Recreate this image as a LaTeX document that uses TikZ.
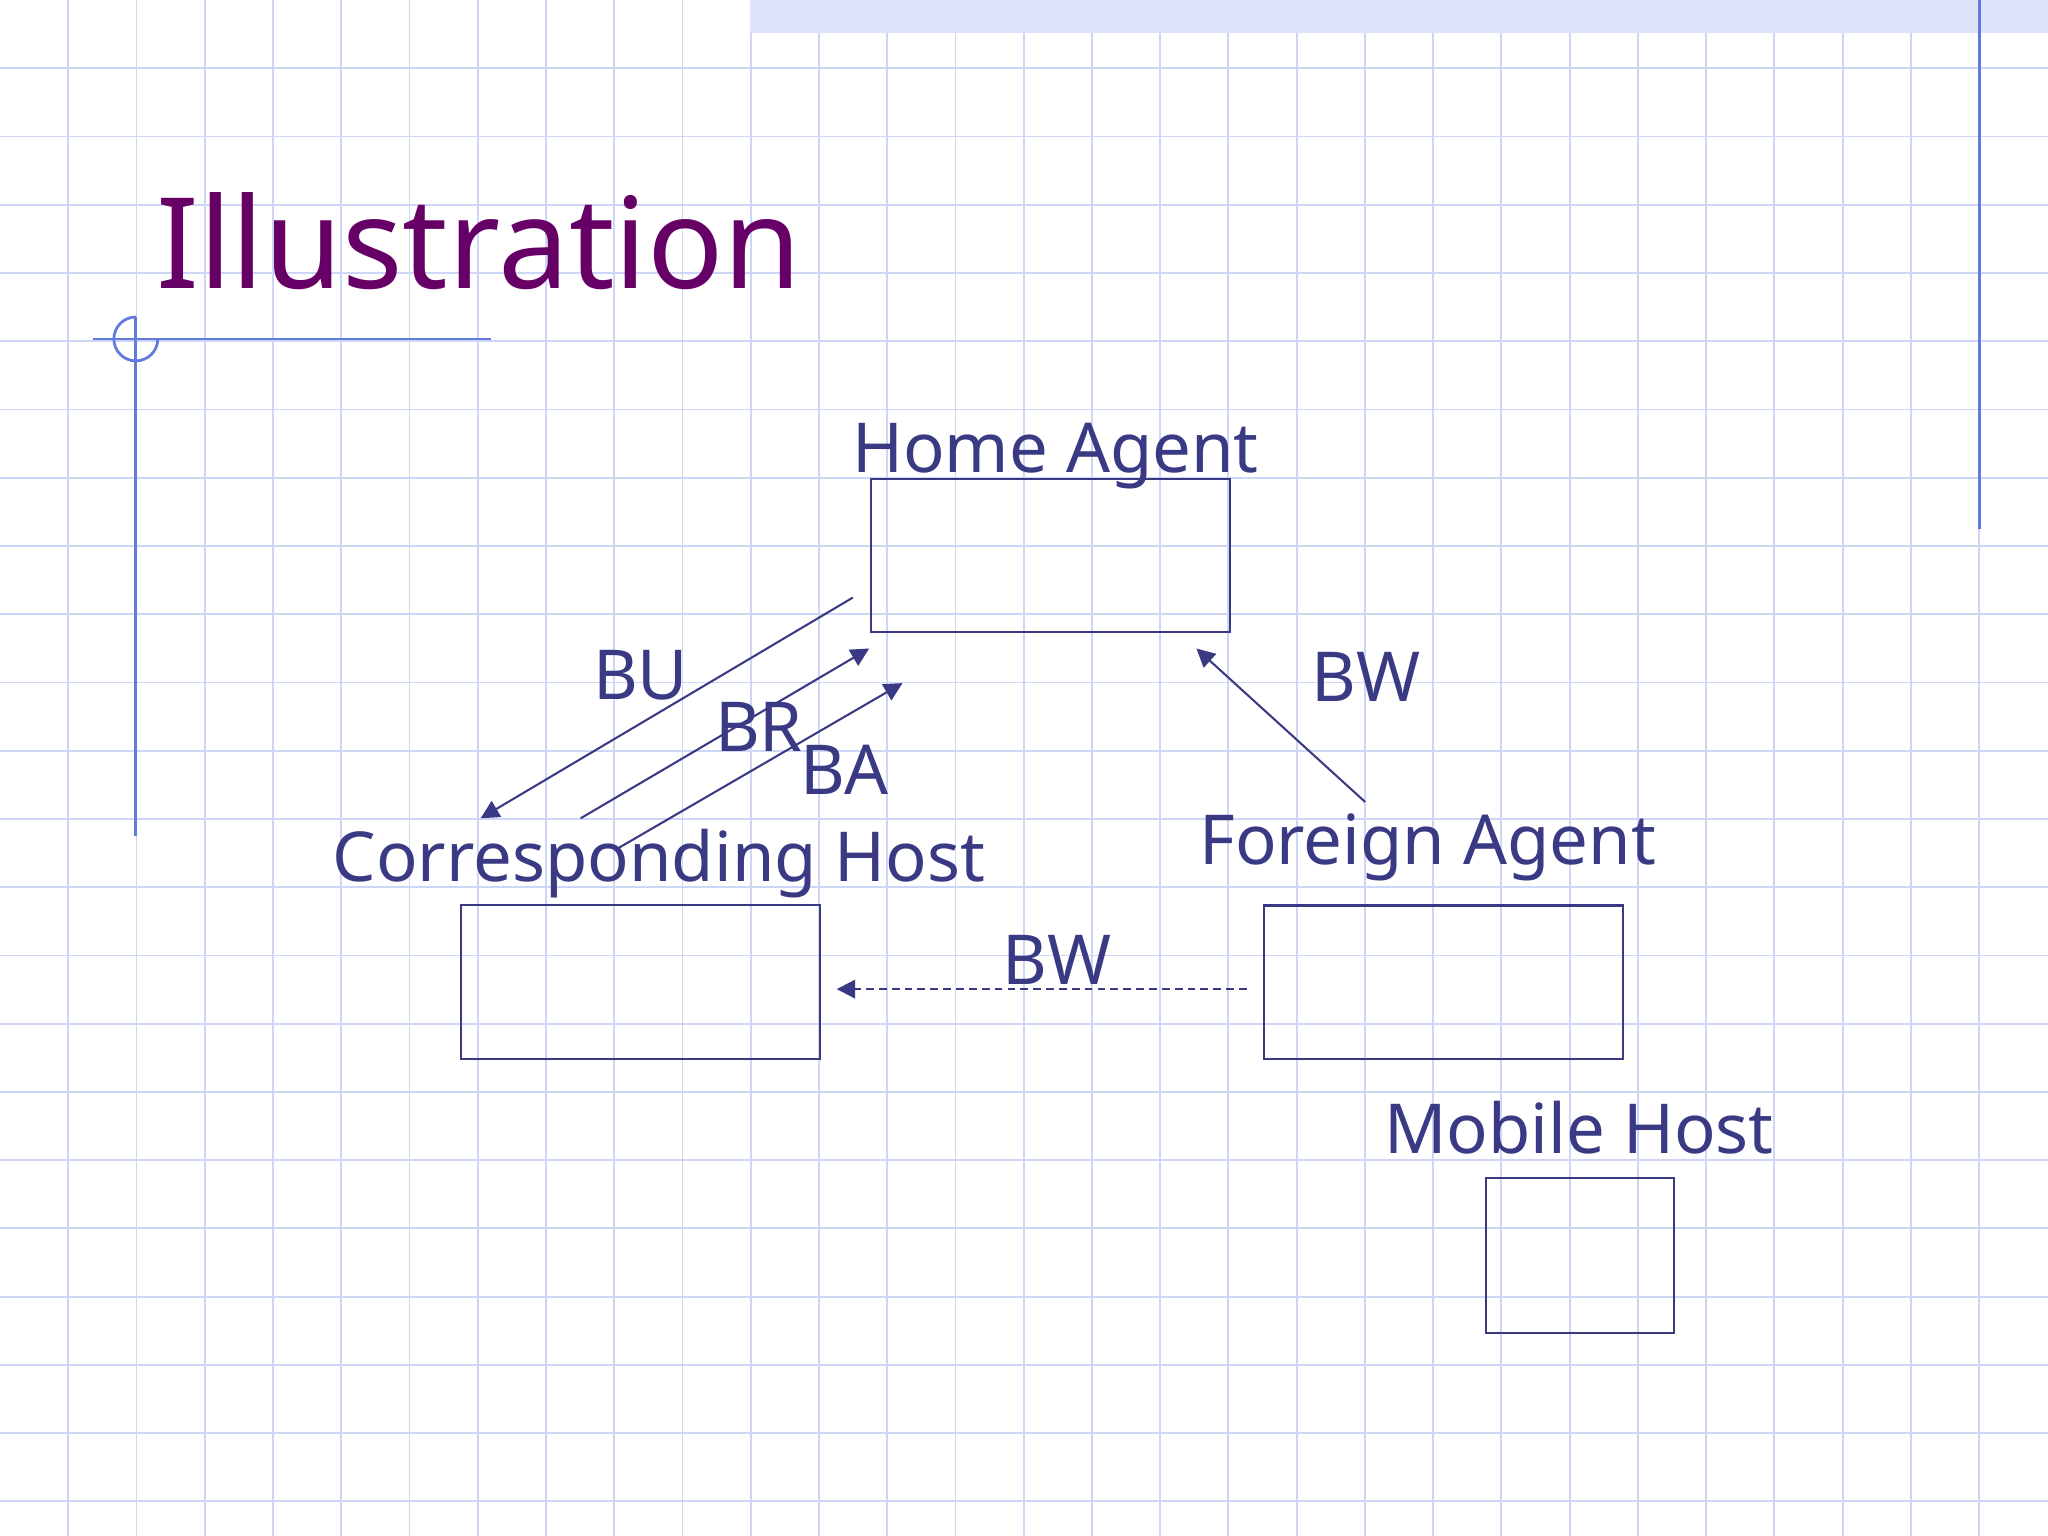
\documentclass[tikz,border=0pt]{standalone}
\usepackage{fontspec}
\setmainfont{Noto Sans}
\usetikzlibrary{arrows.meta,positioning}

\definecolor{inkblue}{RGB}{58,58,132}
\definecolor{gridblue}{RGB}{205,214,247}
\definecolor{rulerblue}{RGB}{98,122,222}
\definecolor{bandblue}{RGB}{220,228,249}
\definecolor{titlepurple}{RGB}{102,0,102}

\begin{document}
\begin{tikzpicture}[x=0.01cm, y=-0.01cm,
        box/.style={draw=inkblue, line width=0.45pt, rectangle, inner sep=0pt, anchor=north west},
        boxname/.style={text=inkblue, font=\fontsize{15}{18}\selectfont, inner sep=0pt},
        msg/.style={draw=inkblue, line width=0.45pt, -{Triangle[length=4pt,width=4pt]}},
        gridline/.style={draw=gridblue, line width=0.4pt},
        ruler/.style={draw=rulerblue, line width=0.6pt}]
        \useasboundingbox (0,0) rectangle (1568,1176);
        \fill[white] (0,0) rectangle (1568,1176);

        % Background grid
        \foreach \k in {1,...,29}
            \draw[gridline] (52.25*\k,0) -- (52.25*\k,1176);
        \foreach \k in {1,...,22}
            \draw[gridline] (0,52.25*\k) -- (1568,52.25*\k);
        \fill[bandblue] (574.5,0) rectangle (1568,25.5);
        \draw[ruler] (1515.5,0) -- (1515.5,405);
        \draw[ruler] (71,259.5) -- (376,259.5);
        \draw[ruler] (104,242.7) arc[start angle=90, end angle=360, radius=0.168cm];
        \draw[ruler] (104,242.7) -- (104,640);

        % Title
        \node[text=titlepurple, font=\fontsize{27.5}{33}\selectfont, inner sep=0pt, anchor=base west] (title) at (119,221) {Illustration};

        % Boxes
        \node[box, minimum width=2.745cm, minimum height=1.17cm] (home) at (666,366) {};
        \node[box, minimum width=2.745cm, minimum height=1.18cm] (corr) at (352.5,692) {};
        \node[box, minimum width=2.745cm, minimum height=1.175cm] (foreign) at (967,692.5) {};
        \node[box, minimum width=1.44cm, minimum height=1.18cm] (mobile) at (1137,901.4) {};

        % Box names
        \node[boxname, above=0.04cm of home.north, anchor=base, xshift=0.04cm] (homename) {Home Agent};
        \node[boxname, above=0.17cm of corr.north, anchor=base, xshift=0.14cm] (corrname) {Corresponding Host};
        \node[boxname, above=0.305cm of foreign.north, anchor=base, xshift=-0.12cm] (foreignname) {Foreign Agent};
        \node[boxname, above=0.185cm of mobile.north, anchor=base, xshift=-0.01cm] (mobilename) {Mobile Host};

        % Arrow ends
        \coordinate (bu1) at (653,457.5);
        \coordinate (bu2) at (368,626.5);
        \coordinate (br1) at (444.6,626.5);
        \coordinate (br2) at (665.5,496.5);
        \coordinate (ba1) at (474,649);
        \coordinate (ba2) at (691,523);
        \coordinate (bwa1) at (1045.2,614);
        \coordinate (bwa2) at (916,496.5);
        \coordinate (bwb1) at (954.6,757.3);
        \coordinate (bwb2) at (640.6,757.3);

        % Arrows
        \draw[msg] (bu1) -- (bu2);
        \draw[msg] (br1) -- (br2);
        \draw[msg] (ba1) -- (ba2);
        \draw[msg] (bwa1) -- (bwa2);
        \draw[msg, dash pattern=on 1.7pt off 1.1pt] (bwb1) -- (bwb2);

        % Message labels
        \node[boxname, anchor=base] (bu) at (490.5,535.5) {BU};
        \node[boxname, anchor=base] (br) at (581,575) {BR};
        \node[boxname, anchor=base] (ba) at (646.5,608.5) {BA};
        \node[boxname, anchor=base] (bwa) at (1046,537) {BW};
        \node[boxname, anchor=base] (bwb) at (809,753.5) {BW};
    \end{tikzpicture}
\end{document}
